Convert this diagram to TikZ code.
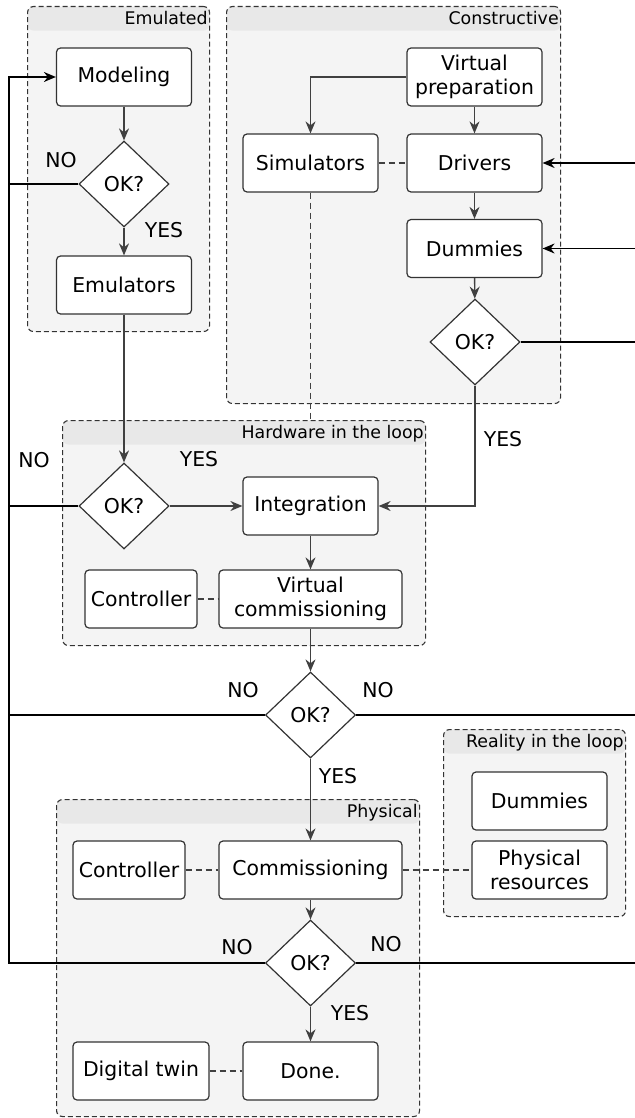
\documentclass[tikz,border=0pt]{standalone}
\usepackage{fontspec}
\setmainfont{DejaVu Sans}
\usetikzlibrary{positioning, arrows.meta, shapes.geometric, calc}
\definecolor{grpgray}{HTML}{F4F4F4}
\definecolor{hdrgray}{HTML}{E8E8E8}
\definecolor{edgegray}{HTML}{333333}
\definecolor{flowgray}{HTML}{404040}

\begin{document}
\begin{tikzpicture}[
    x=0.5pt, y=-0.5pt,
    every node/.style={font=\fontsize{10.2}{12}\selectfont},
    grpbox/.style={draw=edgegray, dash pattern=on 2.5pt off 1.5pt, line width=0.55pt,
                   rounded corners=3pt, fill=grpgray, anchor=north west, inner sep=0pt,
                   path picture={\fill[hdrgray] (path picture bounding box.north west)
                     rectangle ([yshift=-12pt]path picture bounding box.north east);}},
    grptitle/.style={font=\fontsize{8.7}{10}\selectfont, anchor=north east,
                     inner xsep=1pt, inner ysep=2.5pt},
    procbox/.style={draw=edgegray, line width=0.6pt, rounded corners=2pt, fill=white,
                    minimum width=67.5pt, minimum height=29pt, align=center, inner sep=2pt},
    okdiamond/.style={diamond, draw=edgegray, line width=0.6pt, fill=white,
                      minimum width=45pt, minimum height=43pt, inner sep=0pt},
    flowarrow/.style={->, draw=flowgray, line width=0.7pt},
    retline/.style={draw=black, line width=0.8pt},
    dashlink/.style={draw=flowgray, dash pattern=on 3pt off 2pt, line width=0.6pt},
    >={Stealth[length=6pt, width=5pt]},
  ]
  \useasboundingbox (0,0) rectangle (635,1118);

  % groups
  \node[grpbox, minimum width=91pt, minimum height=162.5pt] (emulated) at (27,6) {};
  \node[grptitle] (emulatedlbl) at (emulated.north east) {Emulated};
  \node[grpbox, minimum width=167pt, minimum height=198.5pt] (constructive) at (226,6) {};
  \node[grptitle] (constructivelbl) at (constructive.north east) {Constructive};
  \node[grpbox, minimum width=181.5pt, minimum height=112.5pt] (hil) at (62,420) {};
  \node[grptitle] (hillbl) at (hil.north east) {Hardware in the loop};
  \node[grpbox, minimum width=91pt, minimum height=93.5pt] (ril) at (443,729) {};
  \node[grptitle] (rillbl) at (ril.north east) {Reality in the loop};
  \node[grpbox, minimum width=181.5pt, minimum height=158.5pt] (physical) at (56,799) {};
  \node[grptitle] (physicallbl) at (physical.north east) {Physical};

  % steps
  \node[procbox]   (modeling)   at (124,77)    {Modeling};
  \node[okdiamond] (okemu)      at (124,184)   {OK?};
  \node[procbox]   (emulators)  at (124,285)   {Emulators};
  \node[procbox]   (virtprep)   at (474.5,77)  {Virtual\\preparation};
  \node[procbox]   (simulators) at (310.5,163) {Simulators};
  \node[procbox]   (drivers)    at (474.5,163) {Drivers};
  \node[procbox]   (dummiesc)   at (474.5,248.5) {Dummies};
  \node[okdiamond] (okcon)      at (475,342)   {OK?};
  \node[okdiamond] (okhil)      at (124,506)   {OK?};
  \node[procbox]   (integration) at (310.5,506) {Integration};
  \node[procbox, minimum width=56pt]   (ctrlhil) at (141,599)   {Controller};
  \node[procbox, minimum width=91.5pt] (virtcomm) at (310.5,599) {Virtual\\commissioning};
  \node[okdiamond] (okmid)      at (310.5,715) {OK?};
  \node[procbox]   (dummiesr)   at (539.5,801) {Dummies};
  \node[procbox]   (physres)    at (539.5,870) {Physical\\resources};
  \node[procbox, minimum width=56pt]   (ctrlphy) at (129,870)   {Controller};
  \node[procbox, minimum width=91.5pt] (commissioning) at (310.5,870) {Commissioning};
  \node[okdiamond] (okphy)      at (310.5,963) {OK?};
  \node[procbox, minimum width=68pt]   (twin) at (141,1071)     {Digital twin};
  \node[procbox]   (done)       at (310.5,1071) {Done.};

  % flow
  \draw[flowarrow] (modeling) -- (okemu);
  \draw[flowarrow] (okemu) -- (emulators);
  \draw[flowarrow] (emulators) -- (okhil);
  \draw[flowarrow] (okhil) -- (integration);
  \draw[flowarrow] (virtprep.west) -| (simulators.north);
  \draw[flowarrow] (virtprep) -- (drivers);
  \draw[dashlink] (simulators) -- (drivers);
  \draw[flowarrow] (drivers) -- (dummiesc);
  \draw[flowarrow] (dummiesc) -- (okcon);
  \draw[flowarrow] (okcon.south) |- (integration.east);
  \draw[dashlink] (simulators.south) -- (simulators.south |- hil.north);
  \draw[flowarrow] (integration) -- (virtcomm);
  \draw[dashlink] (ctrlhil) -- (virtcomm);
  \draw[flowarrow] (virtcomm) -- (okmid);
  \draw[flowarrow] (okmid) -- (commissioning);
  \draw[dashlink] (ctrlphy) -- (commissioning);
  \draw[dashlink] (commissioning) -- (physres);
  \draw[flowarrow] (commissioning) -- (okphy);
  \draw[flowarrow] (okphy) -- (done);
  \draw[dashlink] (twin) -- (done);

  % feedback
  \coordinate (railtop) at (9,77);
  \coordinate (rightedge) at (635,0);
  \draw[retline, ->] (okphy.west) -| (railtop) -- (modeling.west);
  \draw[retline] (okemu.west) -- (okemu.west -| railtop);
  \draw[retline] (okhil.west) -- (okhil.west -| railtop);
  \draw[retline] (okmid.west) -- (okmid.west -| railtop);
  \draw[retline, ->] (drivers.east -| rightedge) -- (drivers.east);
  \draw[retline, ->] (dummiesc.east -| rightedge) -- (dummiesc.east);
  \draw[retline] (okcon.east) -- (okcon.east -| rightedge);
  \draw[retline] (okmid.east) -- (okmid.east -| rightedge);
  \draw[retline] (okphy.east) -- (okphy.east -| rightedge);

  % answers
  \node (noemu)  at (61,160)  {NO};
  \node (yesemu) at (164,230) {YES};
  \node (yescon) at (503,439) {YES};
  \node (nohil)  at (34,460)  {NO};
  \node (yeshil) at (199,459) {YES};
  \node (nomidl) at (243,690) {NO};
  \node (nomidr) at (378,690) {NO};
  \node (yesmid) at (338,776) {YES};
  \node (nophyl) at (237,947) {NO};
  \node (nophyr) at (386,944) {NO};
  \node (yesphy) at (350,1013) {YES};
\end{tikzpicture}
\end{document}
